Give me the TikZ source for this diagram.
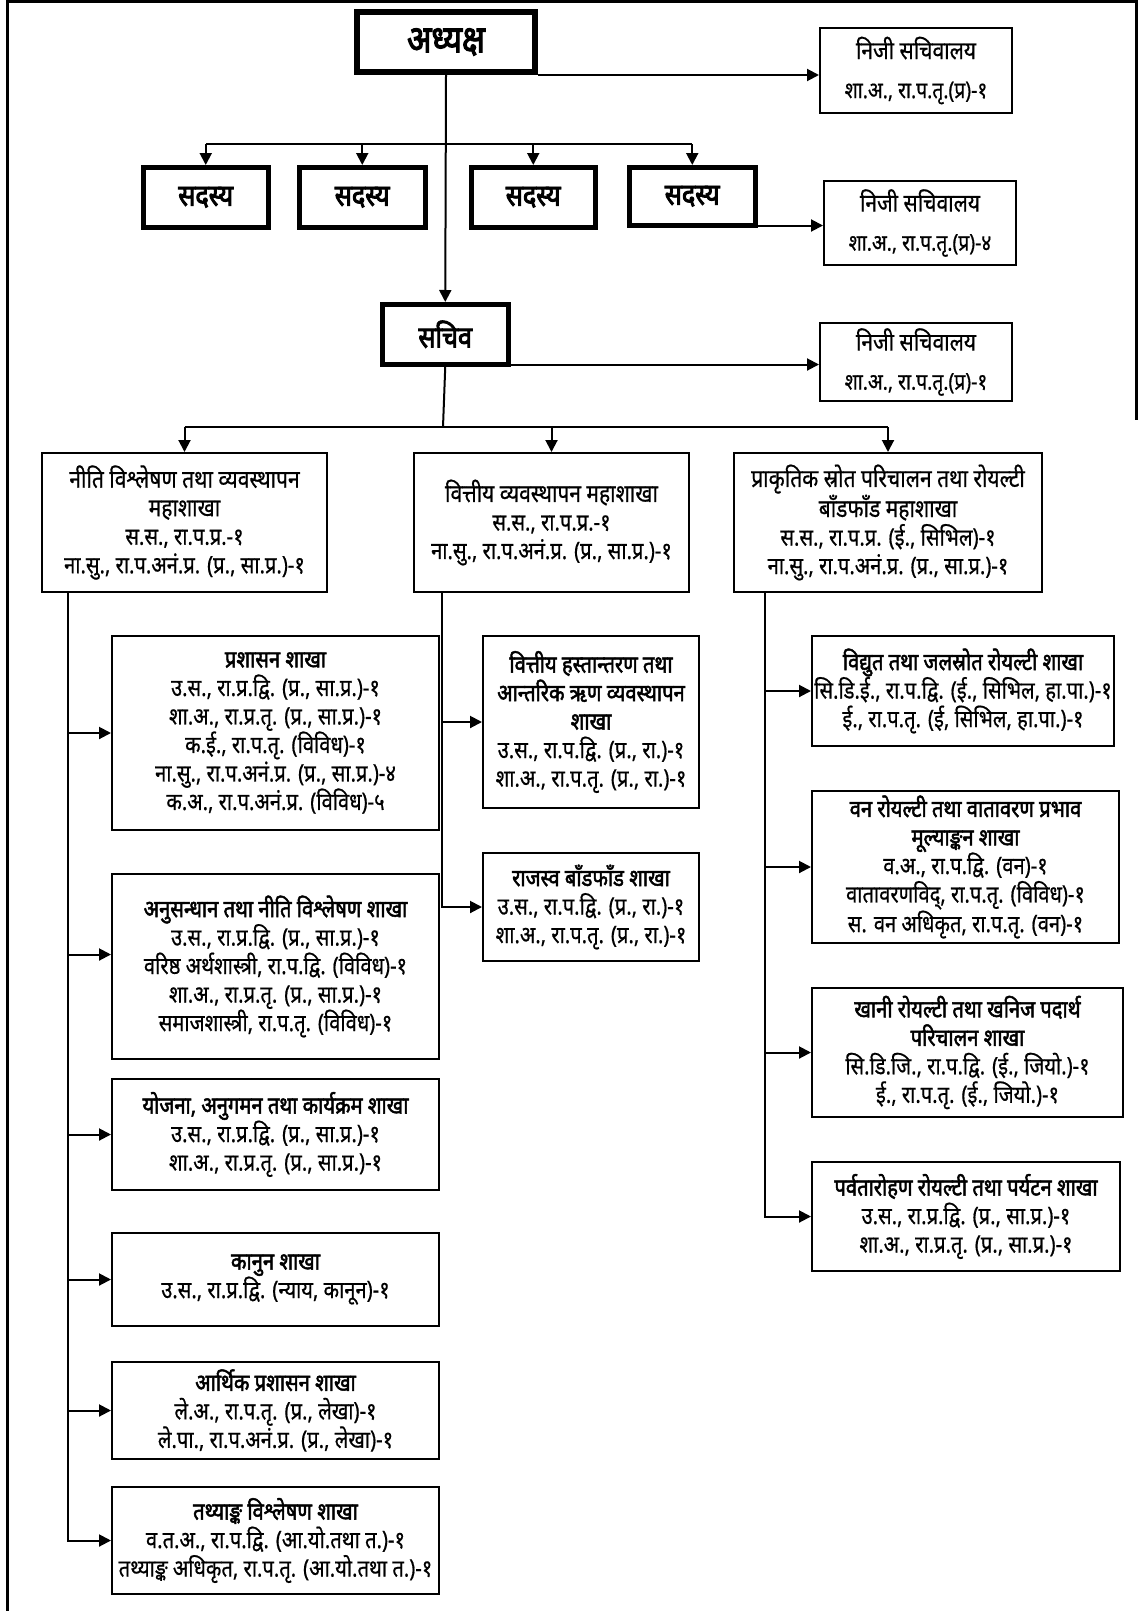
\documentclass[tikz,border=0pt]{standalone}
\usepackage{fontspec}
\setmainfont{Noto Sans}[Script=Devanagari,FakeStretch=0.84,FakeBold=0.6]
\newfontfamily\hd{Noto Sans}[Script=Devanagari,FakeStretch=0.84,FakeBold=2]
\newfontfamily\hdd{Noto Sans}[Script=Devanagari,FakeStretch=0.84,FakeBold=3]
\newcommand\ttl[1]{{\hd #1}}
\newcommand\dttl[1]{{\fontsize{25}{28.5}\selectfont #1}}
\usetikzlibrary{arrows.meta}
\begin{document}
\begin{tikzpicture}[x=1pt,y=-1pt,
  box/.style={draw, line width=2pt, align=center, anchor=north west, inner sep=0pt,
    font=\fontsize{24}{28.5}\selectfont},
  psbox/.style={box, font=\fontsize{23}{39}\selectfont},
  bigbox/.style={draw, line width=6pt, align=center, anchor=north west, inner sep=0pt,
    font=\hdd\fontsize{38}{42}\selectfont},
  membox/.style={draw, line width=4.5pt, align=center, anchor=north west, inner sep=0pt,
    font=\hdd\fontsize{30}{34}\selectfont},
  conn/.style={line width=2pt, -{Triangle[length=12pt,width=12pt]}},
  plain/.style={line width=2pt},
  frameline/.style={line width=3pt}]
\useasboundingbox (0,0) rectangle (1142,1611);
\draw[frameline] (7,1611) -- (7,2) -- (1136,2) -- (1136,420);

% top level
\node[bigbox, minimum width=178pt, minimum height=60pt] (chair) at (354,9) {अध्यक्ष};
\node[psbox, minimum width=192pt, minimum height=85pt] (ps1) at (819,27) {\dttl{निजी सचिवालय}\\शा.अ., रा.प.तृ.(प्र)-१};

\node[membox, minimum width=125pt, minimum height=60pt] (mem1) at (141,165) {सदस्य};
\node[membox, minimum width=126pt, minimum height=60pt] (mem2) at (297,165) {सदस्य};
\node[membox, minimum width=124pt, minimum height=60pt] (mem3) at (469,165) {सदस्य};
\node[membox, minimum width=126pt, minimum height=58pt] (mem4) at (627,165) {सदस्य};
\node[psbox, minimum width=192pt, minimum height=84pt] (ps2) at (823,180) {\dttl{निजी सचिवालय}\\शा.अ., रा.प.तृ.(प्र)-४};

\node[membox, minimum width=126pt, minimum height=60pt] (sec) at (380,302) {सचिव};
\node[psbox, minimum width=192pt, minimum height=78pt] (ps3) at (819,322) {\dttl{निजी सचिवालय}\\शा.अ., रा.प.तृ.(प्र)-१};

% divisions
\node[box, minimum width=285pt, minimum height=139pt] (div1) at (41,452)
  {\dttl{नीति विश्लेषण तथा व्यवस्थापन}\\\dttl{महाशाखा}\\स.स., रा.प.प्र.-१\\ना.सु., रा.प.अनं.प्र. (प्र., सा.प्र.)-१};
\node[box, minimum width=275pt, minimum height=139pt] (div2) at (413,452)
  {\dttl{वित्तीय व्यवस्थापन महाशाखा}\\स.स., रा.प.प्र.-१\\ना.सु., रा.प.अनं.प्र. (प्र., सा.प्र.)-१};
\node[box, minimum width=308pt, minimum height=139pt] (div3) at (733,452)
  {\dttl{प्राकृतिक स्रोत परिचालन तथा रोयल्टी}\\\dttl{बाँडफाँड महाशाखा}\\स.स., रा.प.प्र. (ई., सिभिल)-१\\ना.सु., रा.प.अनं.प्र. (प्र., सा.प्र.)-१};

% left column
\node[box, minimum width=327pt, minimum height=194pt] (L1) at (111,635)
  {\ttl{प्रशासन शाखा}\\उ.स., रा.प्र.द्वि. (प्र., सा.प्र.)-१\\शा.अ., रा.प्र.तृ. (प्र., सा.प्र.)-१\\क.ई., रा.प.तृ. (विविध)-१\\ना.सु., रा.प.अनं.प्र. (प्र., सा.प्र.)-४\\क.अ., रा.प.अनं.प्र. (विविध)-५};
\node[box, minimum width=327pt, minimum height=185pt] (L2) at (111,873)
  {\ttl{अनुसन्धान तथा नीति विश्लेषण शाखा}\\उ.स., रा.प्र.द्वि. (प्र., सा.प्र.)-१\\वरिष्ठ अर्थशास्त्री, रा.प.द्वि. (विविध)-१\\शा.अ., रा.प्र.तृ. (प्र., सा.प्र.)-१\\समाजशास्त्री, रा.प.तृ. (विविध)-१};
\node[box, minimum width=327pt, minimum height=111pt] (L3) at (111,1078)
  {\ttl{योजना, अनुगमन तथा कार्यक्रम शाखा}\\उ.स., रा.प्र.द्वि. (प्र., सा.प्र.)-१\\शा.अ., रा.प्र.तृ. (प्र., सा.प्र.)-१};
\node[box, minimum width=327pt, minimum height=93pt] (L4) at (111,1232)
  {\ttl{कानुन शाखा}\\उ.स., रा.प्र.द्वि. (न्याय, कानून)-१};
\node[box, minimum width=327pt, minimum height=97pt] (L5) at (111,1361)
  {\ttl{आर्थिक प्रशासन शाखा}\\ले.अ., रा.प.तृ. (प्र., लेखा)-१\\ले.पा., रा.प.अनं.प्र. (प्र., लेखा)-१};
\node[box, minimum width=327pt, minimum height=107pt] (L6) at (111,1486)
  {\ttl{तथ्याङ्क विश्लेषण शाखा}\\व.त.अ., रा.प.द्वि. (आ.यो.तथा त.)-१\\तथ्याङ्क अधिकृत, रा.प.तृ. (आ.यो.तथा त.)-१};

% middle column
\node[box, minimum width=216pt, minimum height=172pt] (M1) at (482,635)
  {\ttl{वित्तीय हस्तान्तरण तथा}\\\ttl{आन्तरिक ऋण व्यवस्थापन}\\\ttl{शाखा}\\उ.स., रा.प.द्वि. (प्र., रा.)-१\\शा.अ., रा.प.तृ. (प्र., रा.)-१};
\node[box, minimum width=216pt, minimum height=108pt] (M2) at (482,852)
  {\ttl{राजस्व बाँडफाँड शाखा}\\उ.स., रा.प.द्वि. (प्र., रा.)-१\\शा.अ., रा.प.तृ. (प्र., रा.)-१};

% right column
\node[box, minimum width=302pt, minimum height=110pt] (R1) at (811,635)
  {\ttl{विद्युत तथा जलस्रोत रोयल्टी शाखा}\\सि.डि.ई., रा.प.द्वि. (ई., सिभिल, हा.पा.)-१\\ई., रा.प.तृ. (ई, सिभिल, हा.पा.)-१};
\node[box, minimum width=307pt, minimum height=152pt] (R2) at (811,790)
  {\ttl{वन रोयल्टी तथा वातावरण प्रभाव}\\\ttl{मूल्याङ्कन शाखा}\\व.अ., रा.प.द्वि. (वन)-१\\वातावरणविद्, रा.प.तृ. (विविध)-१\\स. वन अधिकृत, रा.प.तृ. (वन)-१};
\node[box, minimum width=311pt, minimum height=129pt] (R3) at (811,987)
  {\ttl{खानी रोयल्टी तथा खनिज पदार्थ}\\\ttl{परिचालन शाखा}\\सि.डि.जि., रा.प.द्वि. (ई., जियो.)-१\\ई., रा.प.तृ. (ई., जियो.)-१};
\node[box, minimum width=308pt, minimum height=109pt] (R4) at (811,1161)
  {\ttl{पर्वतारोहण रोयल्टी तथा पर्यटन शाखा}\\उ.स., रा.प्र.द्वि. (प्र., सा.प्र.)-१\\शा.अ., रा.प्र.तृ. (प्र., सा.प्र.)-१};

% connectors top
\draw[conn] (chair.south) -- (sec.north);
\draw[conn] (chair.south east) -- (chair.south east -| ps1.west);
\coordinate (bar1) at (443,144);
\draw[plain] (mem1.north |- bar1) -- (mem4.north |- bar1);
\foreach \m in {mem1,mem2,mem3,mem4} \draw[conn] (\m.north |- bar1) -- (\m.north);
\draw[conn] ([yshift=2pt]mem4.south east) -- ([yshift=2pt]mem4.south east -| ps2.west);
\draw[conn] ([yshift=2pt]sec.south east) -- ([yshift=2pt]sec.south east -| ps3.west);

\coordinate (bar2) at (443,427);
\draw[plain] (sec.south) -- (bar2);
\draw[plain] (div1.north |- bar2) -- (div3.north |- bar2);
\foreach \d in {div1,div2,div3} \draw[conn] (\d.north |- bar2) -- (\d.north);

% left column connectors
\coordinate (lx) at (68,591);
\draw[conn] (lx) |- (L6.west);
\draw[conn] (lx |- L1.west) -- (L1.west);
\draw[conn] ([yshift=12pt]lx |- L2.west) -- ([yshift=12pt]L2.west);
\foreach \b in {L3,L4,L5} \draw[conn] (lx |- \b.west) -- (\b.west);

% middle connectors
\coordinate (mx) at (442,591);
\draw[conn] (mx) |- (M2.west);
\draw[conn] (mx |- M1.west) -- (M1.west);

% right connectors
\coordinate (rx) at (765,591);
\draw[conn] (rx) |- (R4.west);
\foreach \b in {R1,R2,R3} \draw[conn] (rx |- \b.west) -- (\b.west);
\end{tikzpicture}
\end{document}
